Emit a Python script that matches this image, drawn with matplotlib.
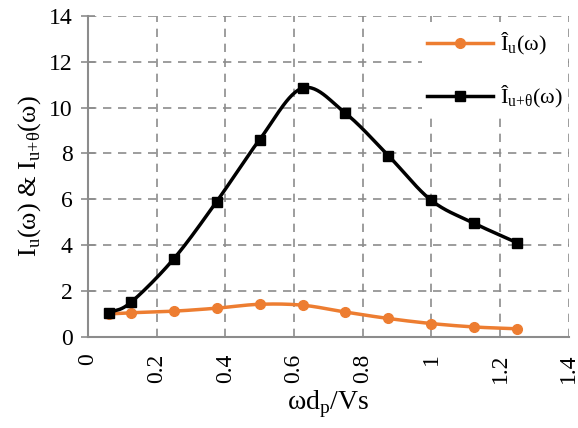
import matplotlib
matplotlib.use("Agg")
import matplotlib.pyplot as plt
import numpy as np

plt.rcParams['font.family'] = ['Liberation Serif', 'DejaVu Serif']
plt.rcParams['mathtext.fontset'] = 'custom'
plt.rcParams['mathtext.rm'] = 'Liberation Serif'

x_vals = [0.0625, 0.125, 0.25, 0.375, 0.5, 0.625, 0.75, 0.875, 1.0, 1.125, 1.25]
iu_vals = [1.0, 1.05, 1.12, 1.25, 1.42, 1.38, 1.08, 0.8, 0.58, 0.43, 0.35]
iut_vals = [1.05, 1.5, 3.4, 5.9, 8.6, 10.85, 9.75, 7.9, 5.95, 4.95, 4.1]


def smooth(x, y, n=30):
    # Catmull-Rom through the points, like Excel's smoothed line
    x = np.asarray(x, float)
    y = np.asarray(y, float)
    px = np.concatenate([[2 * x[0] - x[1]], x, [2 * x[-1] - x[-2]]])
    py = np.concatenate([[2 * y[0] - y[1]], y, [2 * y[-1] - y[-2]]])
    xs, ys = [], []
    t = np.linspace(0, 1, n)
    for i in range(1, len(px) - 2):
        for p, out in ((px, xs), (py, ys)):
            p0, p1, p2, p3 = p[i - 1], p[i], p[i + 1], p[i + 2]
            seg = 0.5 * (2 * p1 + (-p0 + p2) * t + (2 * p0 - 5 * p1 + 4 * p2 - p3) * t ** 2
                         + (-p0 + 3 * p1 - 3 * p2 + p3) * t ** 3)
            out.extend(seg)
    return np.array(xs), np.array(ys)


fig = plt.figure(figsize=(5.78, 4.28), dpi=100)
ax = fig.add_axes([0.152, 0.213, 0.832, 0.75])

orange = '#ED7D31'
sx, sy = smooth(x_vals, iu_vals)
ax.plot(sx, sy, color=orange, lw=2.5, zorder=3)
ax.plot(x_vals, iu_vals, 'o', color=orange, ms=7, zorder=4)
sx, sy = smooth(x_vals, iut_vals)
ax.plot(sx, sy, color='black', lw=2.5, zorder=3)
ax.plot(x_vals, iut_vals, 's', color='black', ms=7, zorder=4)

# legend handles
ax.plot([], [], color=orange, lw=2.5, marker='o', ms=7, label='Î$_\\mathregular{u}$(ω)')
ax.plot([], [], color='black', lw=2.5, marker='s', ms=7, label='Î$_\\mathregular{u{+}θ}$(ω)')
handles, labels = ax.get_legend_handles_labels()
leg = ax.legend(handles, labels, loc='upper right', bbox_to_anchor=(1.02, 1.0), frameon=True,
                edgecolor='none', facecolor='white', framealpha=1, fontsize=16,
                labelspacing=1.2, handlelength=3.0, handletextpad=0.3, borderpad=0.2)
leg.set_zorder(5)

ax.set_xlim(0, 1.4)
ax.set_ylim(0, 14)
ax.set_xticks(np.arange(0, 1.41, 0.2))
ax.set_xticklabels(['0', '0.2', '0.4', '0.6', '0.8', '1', '1.2', '1.4'], rotation=90)
ax.set_yticks(np.arange(0, 15, 2))
ax.grid(True, linestyle=(0, (5, 4)), color='#8c8c8c', lw=1.2)
ax.set_axisbelow(True)
for s in ('top', 'right'):
    ax.spines[s].set_visible(False)
for s in ('left', 'bottom'):
    ax.spines[s].set_color('#8c8c8c')
    ax.spines[s].set_linewidth(1.5)
ax.tick_params(axis='y', direction='inout', length=10, width=1.2, color='#8c8c8c', labelsize=17, pad=6)
ax.tick_params(axis='x', length=0, labelsize=17, pad=12)

ax.set_xlabel('ωd$_\\mathregular{p}$/Vs', fontsize=20, labelpad=4)
ax.set_ylabel('I$_\\mathregular{u}$(ω) & I$_\\mathregular{u{+}θ}$(ω)', fontsize=19, labelpad=4)

fig.savefig('out.png', dpi=100)
